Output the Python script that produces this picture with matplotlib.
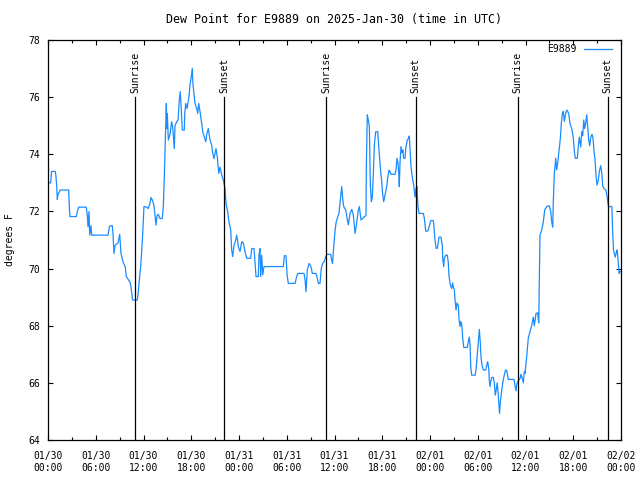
import numpy as np
import pandas as pd
import matplotlib
matplotlib.use("Agg")
import matplotlib.pyplot as plt
import matplotlib.dates as mdates

plt.rcParams['font.family'] = ['DejaVu Sans Mono']
plt.rcParams['font.size'] = 7

station = "E9889"
start = pd.Timestamp("2025-01-30 00:00")

# hours after 01/30 00:00 UTC, dew point in degrees F
hours = [0.00, 0.34, 0.44, 0.92, 1.01, 1.09, 1.17, 1.26, 1.55, 2.60, 2.68, 2.76, 3.56, 3.68, 3.86,
         4.81, 4.94, 5.03, 5.15, 5.24, 5.40, 5.49, 7.54, 7.70, 7.83, 8.08, 8.17, 8.29, 8.42, 8.58,
         8.80, 9.01, 9.17, 9.42, 9.71, 9.84, 10.27, 10.43, 10.56, 10.62, 11.22, 11.31, 11.52, 11.65,
         11.77, 11.90, 12.06, 12.40, 12.61, 12.82, 12.94, 13.11, 13.32, 13.57, 13.70, 13.86, 14.07,
         14.36, 14.49, 14.61, 14.79, 14.87, 14.92, 14.99, 15.12, 15.33, 15.54, 15.67, 15.87, 15.96,
         16.17, 16.34, 16.50, 16.62, 16.71, 16.88, 17.13, 17.18, 17.31, 17.47, 17.72, 17.84, 18.01,
         18.13, 18.22, 18.35, 18.47, 18.69, 18.81, 18.94, 19.10, 19.31, 19.44, 19.64, 19.82, 19.94,
         20.14, 20.36, 20.57, 20.70, 20.86, 21.11, 21.28, 21.45, 21.61, 21.83, 22.03, 22.24, 22.37,
         22.58, 22.74, 22.96, 23.08, 23.21, 23.37, 23.59, 23.71, 23.84, 23.91, 24.13, 24.34, 24.54,
         24.75, 24.96, 25.47, 25.60, 25.89, 26.01, 26.14, 26.43, 26.51, 26.64, 26.73, 26.85, 26.98,
         27.14, 29.57, 29.70, 29.91, 30.04, 30.20, 31.04, 31.25, 31.38, 32.17, 32.30, 32.42, 32.58,
         32.80, 33.05, 33.21, 33.68, 33.84, 33.97, 34.18, 34.34, 34.52, 34.72, 34.90, 35.06, 35.52,
         35.64, 35.75, 35.94, 36.06, 36.19, 36.35, 36.56, 36.69, 36.82, 36.91, 37.03, 37.16, 37.41,
         37.62, 37.74, 37.95, 38.17, 38.36, 38.58, 38.79, 38.99, 39.12, 39.33, 39.54, 39.75, 39.96,
         40.00, 40.12, 40.25, 40.38, 40.50, 40.63, 40.75, 40.88, 41.00, 41.18, 41.43, 41.50, 41.63,
         41.80, 41.93, 42.06, 42.18, 42.35, 42.56, 42.68, 42.85, 42.97, 43.10, 43.60, 43.73, 43.85,
         43.98, 44.10, 44.14, 44.23, 44.36, 44.48, 44.60, 44.69, 44.86, 44.98, 45.15, 45.28, 45.40,
         45.49, 45.61, 45.78, 45.95, 46.12, 46.24, 46.37, 46.49, 46.62, 47.16, 47.29, 47.46, 47.71,
         47.84, 48.09, 48.42, 48.50, 48.63, 48.76, 48.92, 49.13, 49.38, 49.55, 49.60, 49.72, 49.80,
         49.98, 50.18, 50.30, 50.39, 50.55, 50.73, 50.85, 50.93, 51.06, 51.15, 51.27, 51.40, 51.56,
         51.65, 51.78, 51.86, 51.99, 52.11, 52.24, 52.69, 52.82, 52.94, 53.03, 53.12, 53.24, 53.69,
         53.82, 53.95, 54.12, 54.20, 54.32, 54.41, 54.53, 54.70, 55.00, 55.12, 55.25, 55.38, 55.45,
         55.54, 55.63, 55.76, 55.96, 56.08, 56.20, 56.32, 56.44, 56.53, 56.66, 56.74, 56.86, 56.99,
         57.16, 57.33, 57.49, 57.64, 57.84, 58.56, 58.69, 58.81, 58.90, 59.03, 59.19, 59.31, 59.44,
         59.60, 59.73, 59.85, 59.94, 60.15, 60.35, 60.57, 60.78, 60.98, 61.11, 61.32, 61.53, 61.66,
         61.74, 61.82, 62.04, 62.24, 62.41, 62.67, 62.99, 63.17, 63.29, 63.42, 63.49, 63.62, 63.80,
         63.92, 64.05, 64.21, 64.38, 64.50, 64.63, 64.75, 64.88, 65.05, 65.18, 65.30, 65.43, 65.59,
         65.81, 66.01, 66.14, 66.26, 66.51, 66.64, 66.76, 66.94, 67.06, 67.19, 67.32, 67.44, 67.57,
         67.69, 67.82, 67.94, 68.07, 68.20, 68.36, 68.49, 68.61, 68.74, 68.86, 68.99, 69.15, 69.28,
         69.45, 69.58, 69.71, 69.87, 70.09, 70.21, 70.42, 70.85, 70.93, 71.06, 71.27, 71.40, 71.52,
         71.65, 71.77, 71.90]

dewpoint = [73.0, 73.0, 73.4, 73.4, 73.2, 72.9, 72.42, 72.6, 72.75, 72.75, 72.17, 71.82, 71.82, 72.0, 72.15,
            72.15, 71.85, 71.47, 72.0, 71.17, 71.5, 71.17, 71.17, 71.45, 71.5, 71.5, 71.2, 70.53, 70.8, 70.85,
            70.9, 71.2, 70.53, 70.24, 70.05, 69.72, 69.54, 69.37, 69.04, 68.9, 68.9, 69.1, 69.72, 70.1,
            70.59, 71.23, 72.17, 72.15, 72.1, 72.3, 72.49, 72.4, 72.2, 71.52, 71.85, 71.9, 71.75,
            71.75, 72.17, 73.16, 74.91, 75.78, 74.9, 75.43, 74.5, 74.7, 75.14, 74.95, 74.2, 75.0,
            75.14, 75.2, 75.9, 76.19, 75.78, 74.85, 74.85, 75.43, 75.78, 75.6, 76.02, 76.43, 76.72,
            77.01, 76.43, 76.1, 75.78, 75.6, 75.43, 75.78, 75.5, 75.08, 74.79, 74.6, 74.44, 74.7,
            74.9, 74.5, 74.32, 74.03, 73.85, 74.2, 73.9, 73.33, 73.55, 73.28, 73.1, 72.81, 72.28,
            71.99, 71.64, 71.35, 70.65, 70.42, 70.8, 71.0, 71.17, 70.95, 70.77, 70.6, 70.94, 70.9,
            70.6, 70.36, 70.36, 70.7, 70.7, 70.25, 69.72, 69.72, 70.47, 70.7, 69.72, 70.47, 69.78,
            70.07, 70.07, 70.45, 70.45, 69.78, 69.48, 69.48, 69.72, 69.83, 69.83, 69.6, 69.19, 69.95,
            70.18, 70.07, 69.83, 69.83, 69.66, 69.48, 69.48, 70.0, 70.18, 70.25, 70.42, 70.5, 70.5,
            70.3, 70.18, 70.9, 71.29, 71.6, 71.76, 71.93, 72.28, 72.63, 72.87, 72.45, 72.17, 72.05,
            71.7, 71.53, 71.93, 72.07, 71.88, 71.23, 71.6, 72.05, 72.17, 71.7, 71.75, 71.82, 71.85,
            73.57, 75.38, 75.2, 74.97, 72.98, 72.34, 72.5, 73.3, 74.32, 74.79, 74.79, 74.5, 74.0,
            73.4, 73.06, 72.57, 72.34, 72.57, 72.87, 73.16, 73.45, 73.4, 73.3, 73.3, 73.45, 73.86,
            73.7, 73.2, 72.87, 73.7, 74.27, 74.05, 74.15, 73.86, 73.86, 74.27, 74.5, 74.55, 74.64,
            74.2, 73.57, 73.2, 72.92, 72.5, 72.8, 72.87, 72.17, 71.93, 71.93, 71.75, 71.31, 71.31,
            71.4, 71.68, 71.68, 71.45, 71.0, 70.71, 70.71, 71.1, 71.1, 70.8, 70.36, 70.07, 70.36,
            70.47, 70.47, 70.2, 69.74, 69.43, 69.3, 69.5, 69.36, 69.25, 68.9, 68.55, 68.8, 68.7,
            68.2, 67.97, 68.15, 68.05, 67.56, 67.24, 67.24, 67.45, 67.6, 67.36, 66.57, 66.27, 66.27,
            66.57, 67.03, 67.67, 67.87, 67.4, 66.9, 66.62, 66.45, 66.45, 66.62, 66.74, 66.5, 66.1,
            65.87, 66.05, 66.19, 66.19, 66.0, 65.57, 65.75, 66.0, 65.75, 65.22, 64.93, 65.4, 65.67,
            66.04, 66.27, 66.45, 66.43, 66.12, 66.12, 65.87, 65.72, 65.95, 66.05, 66.1, 66.15, 66.3,
            66.15, 66.0, 66.4, 66.33, 66.92, 67.56, 67.8, 68.0, 68.3, 68.0, 68.43, 68.45, 68.1,
            69.6, 71.17, 71.35, 71.64, 72.05, 72.17, 72.2, 72.0, 71.64, 71.45, 72.3, 73.33, 73.86,
            73.45, 73.7, 74.1, 74.56, 75.08, 75.43, 75.5, 75.15, 75.43, 75.55, 75.5, 75.43, 75.08,
            74.9, 74.56, 74.1, 73.86, 73.86, 74.3, 74.6, 74.25, 74.79, 74.65, 75.2, 74.9, 75.1,
            75.38, 74.95, 74.5, 74.3, 74.6, 74.7, 74.55, 74.1, 73.8, 73.24, 72.92, 73.1, 73.4,
            73.6, 73.35, 72.88, 72.8, 72.75, 72.6, 72.17, 72.17, 71.45, 70.65, 70.4, 70.55, 70.65,
            70.2, 69.83, 69.9]

sun_hours = [10.95, 22.12, 34.95, 46.22, 59.0, 70.35]
sun_labels = ["Sunrise", "Sunset", "Sunrise", "Sunset", "Sunrise", "Sunset"]

times = start + pd.to_timedelta(hours, unit="h")
sun_times = start + pd.to_timedelta(sun_hours, unit="h")

fig = plt.figure(figsize=(6.4, 4.8), dpi=100)
ax = fig.add_axes([48/640, 40/480, 573/640, 400/480])

ax.plot(times, dewpoint, color="#1a8cff", lw=0.9, label=station)

# sunrise / sunset markers
for t, lab in zip(sun_times, sun_labels):
    ax.plot([t, t], [64, 76.0], color="black", lw=0.9)
    ax.text(t, 76.15, lab, rotation=90, ha="center", va="bottom")

ax.set_xlim(start, start + pd.Timedelta(hours=72))
ax.set_ylim(64, 78)
ax.set_yticks(np.arange(64, 79, 2))
ax.xaxis.set_major_locator(mdates.HourLocator(byhour=[0, 6, 12, 18]))
ax.xaxis.set_minor_locator(mdates.HourLocator(byhour=[3, 9, 15, 21]))
ax.xaxis.set_major_formatter(mdates.DateFormatter("%m/%d\n%H:%M"))
ax.tick_params(which="both", direction="in", top=True, right=True, width=0.8)
ax.tick_params(which="major", length=3.5)
ax.tick_params(which="minor", length=2.5)
ax.tick_params(axis="x", pad=8)
ax.tick_params(axis="y", pad=6)
for s in ax.spines.values():
    s.set_linewidth(0.9)

ax.set_ylabel("degrees F", labelpad=9)
ax.set_title("Dew Point for E9889 on 2025-Jan-30 (time in UTC)", pad=12)
ax.legend(loc="upper right", frameon=False, markerfirst=False, handlelength=2.9,
          bbox_to_anchor=(1.0, 1.012))

fig.savefig("out.png", dpi=100)
